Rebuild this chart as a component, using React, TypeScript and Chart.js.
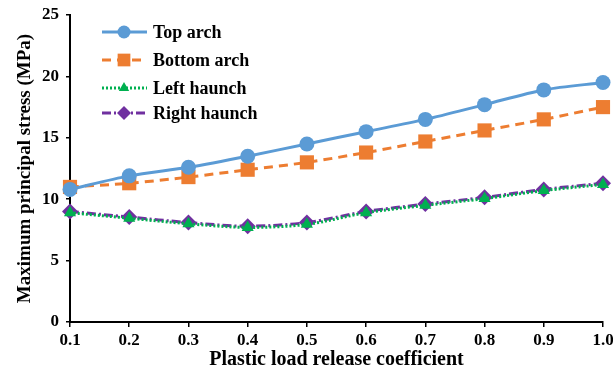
import React, { useEffect, useRef } from "react";
import { Chart, registerables } from "chart.js";
import { drawPoint } from "chart.js/helpers";
Chart.register(...registerables);

const categories = ["0.1", "0.2", "0.3", "0.4", "0.5", "0.6", "0.7", "0.8", "0.9", "1.0"];
const topArch = [10.8, 11.9, 12.6, 13.5, 14.5, 15.5, 16.5, 17.7, 18.9, 19.5];
const bottomArch = [11.0, 11.3, 11.8, 12.4, 13.0, 13.8, 14.7, 15.6, 16.5, 17.5];
const leftHaunch = [8.9, 8.45, 8.0, 7.7, 7.95, 8.9, 9.5, 10.05, 10.7, 11.2];
const rightHaunch = [9.0, 8.55, 8.1, 7.8, 8.1, 9.0, 9.6, 10.15, 10.8, 11.3];
const yTicks = [0, 5, 10, 15, 20, 25];

const FONT = "'Liberation Serif', 'Times New Roman', serif";

const legendPlugin = {
  id: "insideLegend",
  afterDraw(chart: any) {
    const ctx = chart.ctx;
    const rows = [32, 60, 88, 113];
    chart.data.datasets.forEach((ds: any, i: number) => {
      const y = rows[i];
      ctx.save();
      ctx.strokeStyle = ds.borderColor;
      ctx.lineWidth = ds.borderWidth;
      ctx.setLineDash(ds.borderDash || []);
      ctx.beginPath();
      ctx.moveTo(102, y);
      ctx.lineTo(147, y);
      ctx.stroke();
      ctx.setLineDash([]);
      ctx.fillStyle = ds.pointBackgroundColor;
      ctx.strokeStyle = ds.pointBackgroundColor;
      ctx.lineWidth = 0;
      drawPoint(ctx, { pointStyle: ds.pointStyle, radius: ds.pointRadius - 1, rotation: 0, borderWidth: 0 } as any, 124, y);
      ctx.fillStyle = "#000";
      ctx.font = `bold 18px ${FONT}`;
      ctx.textBaseline = "middle";
      ctx.textAlign = "left";
      ctx.fillText(ds.label, 153, y + 1);
      ctx.restore();
    });
  },
};

export default function App() {
  const ref = useRef<HTMLCanvasElement>(null);
  useEffect(() => {
    const chart = new Chart(ref.current!, {
      type: "line",
      data: {
        labels: categories,
        datasets: [
          {
            label: "Top arch",
            data: topArch,
            borderColor: "#5B9BD5",
            backgroundColor: "#5B9BD5",
            pointBackgroundColor: "#5B9BD5",
            pointBorderWidth: 0,
            borderWidth: 3,
            pointStyle: "circle",
            pointRadius: 7.5,
            tension: 0.3,
          },
          {
            label: "Bottom arch",
            data: bottomArch,
            borderColor: "#ED7D31",
            backgroundColor: "#ED7D31",
            pointBackgroundColor: "#ED7D31",
            pointBorderWidth: 0,
            borderWidth: 3,
            borderDash: [9, 6],
            pointStyle: "rect",
            pointRadius: 10,
            tension: 0.3,
          },
          {
            label: "Left haunch",
            data: leftHaunch,
            borderColor: "#00B050",
            backgroundColor: "#00B050",
            pointBackgroundColor: "#00B050",
            pointBorderWidth: 0,
            borderWidth: 3,
            borderDash: [2, 2],
            pointStyle: "triangle",
            pointRadius: 7,
            tension: 0.3,
          },
          {
            label: "Right haunch",
            data: rightHaunch,
            borderColor: "#7030A0",
            backgroundColor: "#7030A0",
            pointBackgroundColor: "#7030A0",
            pointBorderWidth: 0,
            borderWidth: 3,
            borderDash: [9, 3, 2, 3],
            pointStyle: "rectRot",
            pointRadius: 8,
            tension: 0.3,
          },
        ],
      },
      options: {
        animation: false,
        responsive: false,
        maintainAspectRatio: false,
        clip: false as any,
        layout: { padding: { top: 15, right: 10, left: 14, bottom: 0 } },
        plugins: { legend: { display: false }, tooltip: { enabled: false } },
        scales: {
          x: {
            type: "category",
            offset: false,
            grid: { display: true, drawOnChartArea: false, drawTicks: true, tickLength: 5, color: "#000", lineWidth: 1.5 },
            border: { display: true, color: "#000", width: 2 },
            ticks: { color: "#000", font: { family: FONT, size: 17, weight: "bold" }, padding: 3, maxRotation: 0 },
            title: { display: true, text: "Plastic load release coefficient", color: "#000", font: { family: FONT, size: 20, weight: "bold", lineHeight: 1 }, padding: { top: 0, bottom: -3 } },
            afterFit(scale: any) { scale.height = 45; scale.paddingRight = 0; scale.paddingLeft = 0; },
          },
          y: {
            min: 0,
            max: 25,
            afterBuildTicks(scale: any) { scale.ticks = yTicks.map((v) => ({ value: v })); },
            grid: { display: true, drawOnChartArea: false, drawTicks: true, tickLength: 4, color: "#000", lineWidth: 1.5 },
            border: { display: true, color: "#000", width: 2 },
            ticks: { color: "#000", font: { family: FONT, size: 17, weight: "bold" }, padding: 7 },
            title: { display: true, text: "Maximum principal stress (MPa)", color: "#000", font: { family: FONT, size: 19, weight: "bold", lineHeight: 1 }, padding: { top: 2, bottom: 0 } },
            afterFit(scale: any) { scale.width = 56; scale.paddingTop = 0; scale.paddingBottom = 0; },
          },
        },
      },
      plugins: [legendPlugin],
    });
    return () => chart.destroy();
  }, []);
  return (
    <div style={{ position: "fixed", left: 0, top: 0, width: 613, height: 367, background: "#fff" }}>
      <canvas ref={ref} width={613} height={367} style={{ width: 613, height: 367 }} />
    </div>
  );
}
